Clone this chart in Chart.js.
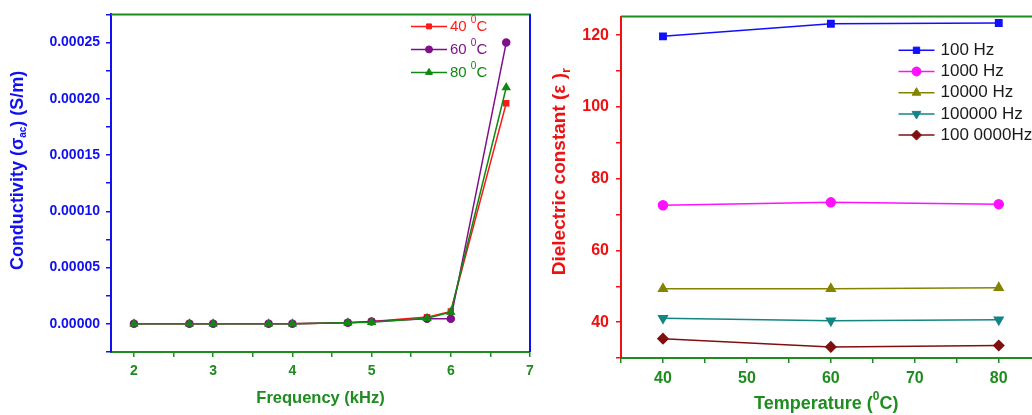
<!DOCTYPE html>
<html><head><meta charset="utf-8">
<script src="https://cdn.jsdelivr.net/npm/chart.js@4.4.1/dist/chart.umd.min.js"></script>
<style>
body{margin:0;background:#fff;width:1032px;height:415px;overflow:hidden;position:relative}
#left{position:absolute;left:0;top:0;width:545px;height:415px}
#right{position:absolute;left:532px;top:0;width:506px;height:415px}
</style></head><body>
<div id="left"><canvas id="condChart"></canvas></div>
<div id="right"><canvas id="dielChart"></canvas></div>
<script>
// left panel: conductivity vs frequency
const freqs = [2, 2.7, 3, 3.7, 4, 4.7, 5, 5.7, 6, 6.7];
const cond40 = [0, 0, 0, 0, 0, 0.000001, 0.000002, 0.000006, 0.000011, 0.000196];
const cond60 = [0, 0, 0, 0, 0, 0.000001, 0.000002, 0.0000045, 0.0000045, 0.00025];
const cond80 = [0, 0, 0, 0, 0, 0.000001, 0.0000015, 0.000005, 0.0000105, 0.00021];
const freqTicks = [2, 2.5, 3, 3.5, 4, 4.5, 5, 5.5, 6, 6.5, 7];
const condTicks = [-0.000025, 0, 0.000025, 0.00005, 0.000075, 0.0001, 0.000125, 0.00015, 0.000175, 0.0002, 0.000225, 0.00025, 0.000275];

// right panel: dielectric constant vs temperature
const temps = [40, 60, 80];
const eps100 = [119.7, 123.2, 123.4];
const eps1k = [72.6, 73.4, 72.9];
const eps10k = [49.3, 49.3, 49.6];
const eps100k = [41.1, 40.4, 40.7];
const eps1M = [35.4, 33.1, 33.5];
const tempTicks = [35, 40, 45, 50, 55, 60, 65, 70, 75, 80];
const epsTicks = [30, 40, 50, 60, 70, 80, 90, 100, 110, 120];

const FONT = "'Liberation Sans', Arial, sans-serif";
const GREEN = '#1e8c1e';
const BLUE = '#1010f0';
const RED = '#ee1111';

function pts(xs, ys) { return xs.map((x, i) => ({x: x, y: ys[i]})); }

// draws a list of text runs (for sub/superscripts)
function drawRuns(ctx, runs, x, y, opts) {
  ctx.save();
  ctx.translate(x, y);
  ctx.rotate(opts.rot || 0);
  ctx.textBaseline = 'middle';
  ctx.fillStyle = opts.color;
  let total = 0;
  runs.forEach(r => {
    ctx.font = (opts.bold ? 'bold ' : '') + (r.size || opts.size) + 'px ' + FONT;
    r.w = ctx.measureText(r.t).width;
    total += r.w;
  });
  let cx = opts.align === 'left' ? 0 : -total / 2;
  runs.forEach(r => {
    ctx.font = (opts.bold ? 'bold ' : '') + (r.size || opts.size) + 'px ' + FONT;
    ctx.fillText(r.t, cx, r.dy || 0);
    cx += r.w;
  });
  ctx.restore();
}

const decor = {
  id: 'decor',
  afterDraw(chart, args, o) {
    const ctx = chart.ctx, a = chart.chartArea;
    ctx.save();
    ctx.lineWidth = 2;
    ctx.strokeStyle = GREEN;
    ctx.beginPath(); ctx.moveTo(a.left, a.top); ctx.lineTo(a.right + 1, a.top); ctx.stroke();
    if (o.rightColor) {
      ctx.strokeStyle = o.rightColor;
      ctx.beginPath(); ctx.moveTo(a.right, a.top); ctx.lineTo(a.right, a.bottom); ctx.stroke();
    }
    ctx.restore();
    // axis titles
    drawRuns(ctx, o.xTitle, (a.left + a.right) / 2, a.bottom + o.xTitleDy, {size: o.xTitleSize, bold: true, color: GREEN});
    drawRuns(ctx, o.yTitle, a.left + o.yTitleDx, a.top + o.yTitleDy, {size: o.yTitleSize, bold: true, color: o.yTitleColor, rot: -Math.PI / 2});
    // legend with line + marker
    const L = o.legend;
    chart.data.datasets.forEach((ds, i) => {
      const y = a.top + L.top + i * L.gap;
      const x0 = a.right - L.lineStart, x1 = a.right - L.lineEnd;
      ctx.save();
      ctx.strokeStyle = ds.borderColor;
      ctx.lineWidth = 1.5;
      ctx.beginPath(); ctx.moveTo(x0, y); ctx.lineTo(x1, y); ctx.stroke();
      ctx.fillStyle = ds.pointBackgroundColor;
      ctx.strokeStyle = ds.pointBorderColor;
      ctx.lineWidth = 1;
      Chart.helpers.drawPoint(ctx, {pointStyle: ds.pointStyle, radius: ds.pointRadius, rotation: ds.pointRotation || 0, borderWidth: 1}, (x0 + x1) / 2, y);
      ctx.restore();
      drawRuns(ctx, L.labels[i], a.right - L.textStart, y, {size: L.size, color: L.color || ds.borderColor, align: 'left'});
    });
  }
};

function series(label, xs, ys, color, style, r, order, rot) {
  return {
    label: label, data: pts(xs, ys), borderColor: color, backgroundColor: color,
    pointBackgroundColor: color, pointBorderColor: color, pointStyle: style,
    pointRadius: r, pointRotation: rot || 0, borderWidth: 1.5, tension: 0, order: order
  };
}

function axis(ticks, min, max, color, size, isMajor, fmt, fitSize, pad, horiz) {
  return {
    type: 'linear', min: min, max: max,
    afterBuildTicks: s => { s.ticks = ticks.map(v => ({value: v})); },
    afterFit: s => { if (horiz) s.height = fitSize; else s.width = fitSize; },
    grid: {drawOnChartArea: false, drawTicks: true, tickLength: 5, color: color, lineWidth: 1.5},
    border: {color: color, width: 2},
    ticks: {
      color: color, padding: pad, maxRotation: 0, autoSkip: false,
      font: {family: FONT, size: size, weight: 'bold'},
      callback: v => isMajor(v) ? fmt(v) : ''
    }
  };
}

const near = (v, step) => Math.abs(Math.round(v / step) * step - v) < step * 1e-6;

new Chart(document.getElementById('condChart'), {
  type: 'line',
  data: {
    datasets: [
      series('40 °C', freqs, cond40, '#ff1a1a', 'rect', 3.5, 3),
      series('60 °C', freqs, cond60, '#80108a', 'circle', 3.5, 2),
      series('80 °C', freqs, cond80, '#118811', 'triangle', 4, 1)
    ]
  },
  options: {
    responsive: true, maintainAspectRatio: false, animation: false,
    layout: {padding: {left: 0, top: 12, right: 15, bottom: 0}},
    plugins: {
      legend: {display: false}, tooltip: {enabled: false},
      decor: {
        rightColor: BLUE,
        xTitle: [{t: 'Frequency (kHz)'}], xTitleSize: 16.5, xTitleDy: 46,
        yTitle: [{t: 'Conductivity ('}, {t: '\u03c3'}, {t: 'ac', size: 10, dy: 5}, {t: ') (S/m)'}],
        yTitleSize: 18, yTitleColor: BLUE, yTitleDx: -93, yTitleDy: 156,
        legend: {
          top: 12, gap: 23, lineStart: 119, lineEnd: 83, textStart: 80, size: 15,
          labels: [
            [{t: '40 '}, {t: '0', size: 10, dy: -6}, {t: 'C'}],
            [{t: '60 '}, {t: '0', size: 10, dy: -6}, {t: 'C'}],
            [{t: '80 '}, {t: '0', size: 10, dy: -6}, {t: 'C'}]
          ]
        }
      }
    },
    scales: {
      x: axis(freqTicks, 1.71, 7, GREEN, 14, v => near(v, 1), v => String(v), 63, 6, true),
      y: axis(condTicks, -0.000025, 0.000275, BLUE, 14, v => v >= 0 && near(v, 0.00005), v => v.toFixed(5), 111, 6, false)
    }
  },
  plugins: [decor]
});

new Chart(document.getElementById('dielChart'), {
  type: 'line',
  data: {
    datasets: [
      series('100 Hz', temps, eps100, '#1010ff', 'rect', 4.5, 1),
      series('1000 Hz', temps, eps1k, '#ff10ff', 'circle', 4.5, 2),
      series('10000 Hz', temps, eps10k, '#848400', 'triangle', 5, 3),
      series('100000 Hz', temps, eps100k, '#138585', 'triangle', 5, 4, 180),
      series('100 0000Hz', temps, eps1M, '#801010', 'rectRot', 5, 5)
    ]
  },
  options: {
    responsive: true, maintainAspectRatio: false, animation: false,
    layout: {padding: {left: 0, top: 14, right: 2, bottom: 0}},
    plugins: {
      legend: {display: false}, tooltip: {enabled: false},
      decor: {
        xTitle: [{t: 'Temperature ('}, {t: '0', size: 12, dy: -7}, {t: 'C)'}], xTitleSize: 18, xTitleDy: 46,
        yTitle: [{t: 'Dielectric constant ('}, {t: '\u03b5'}, {t: ' )'}, {t: 'r', size: 13, dy: 6}],
        yTitleSize: 19, yTitleColor: RED, yTitleDx: -61, yTitleDy: 155,
        legend: {
          top: 33.7, gap: 21.2, lineStart: 133, lineEnd: 97, textStart: 91, size: 17, color: '#1a1a1a',
          labels: [
            [{t: '100 Hz'}], [{t: '1000 Hz'}], [{t: '10000 Hz'}], [{t: '100000 Hz'}], [{t: '100 0000Hz'}]
          ]
        }
      }
    },
    scales: {
      x: axis(tempTicks, 35, 83.9, GREEN, 16, v => near(v, 10), v => String(v), 57, 6, true),
      y: axis(epsTicks, 30, 125.2, RED, 16, v => near(v, 20), v => String(v), 89, 7, false)
    }
  },
  plugins: [decor]
});
</script>
</body></html>
